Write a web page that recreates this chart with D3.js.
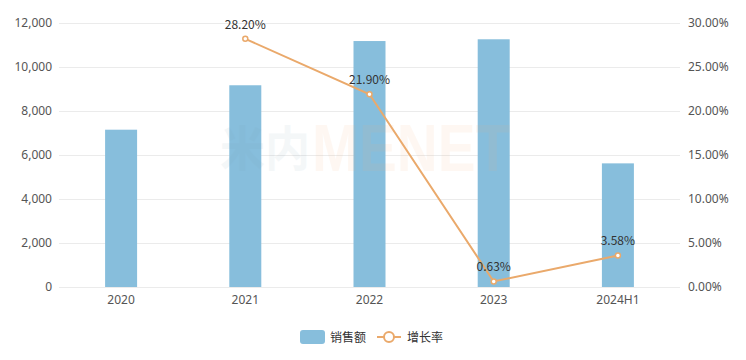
<!DOCTYPE html>
<html>
<head>
<meta charset="utf-8">
<script src="https://cdn.jsdelivr.net/npm/d3@7"></script>
<style>
body{margin:0;background:#fff;font-family:"Microsoft YaHei","Noto Sans CJK SC","Noto Sans",sans-serif;}
</style>
</head>
<body>
<svg id="graph"></svg>
<script>
var categories=["2020","2021","2022","2023","2024H1"]
var sales=[7150,9170,11180,11260,5620]
var growth=[null,28.20,21.90,0.63,3.58]
var leftTicks=[0,2000,4000,6000,8000,10000,12000]
var rightTicks=[0,5,10,15,20,25,30]

var screen={width:746,height:360}
var margins={left:59,right:66,top:23,bottom:73}
var graph={width:screen.width-margins.left-margins.right,height:screen.height-margins.top-margins.bottom}

var barColor="#87bedc", lineColor="#eaa96b"

var svg=d3.select("#graph").attr("width",screen.width).attr("height",screen.height)
var target=svg.append("g").attr("transform","translate("+margins.left+","+margins.top+")")

var xScale=d3.scaleBand().domain(categories).range([0,graph.width])
var yScale=d3.scaleLinear().domain([0,12000]).range([graph.height,0])
var yScaleP=d3.scaleLinear().domain([0,30]).range([graph.height,0])

// grid
target.append("g").selectAll("line").data(leftTicks).enter().append("line")
    .attr("x1",0).attr("x2",graph.width)
    .attr("y1",function(d){return yScale(d)+0.5})
    .attr("y2",function(d){return yScale(d)+0.5})
    .attr("stroke","#ebebeb")

// axes
var yAxisL=d3.axisLeft(yScale).tickValues(leftTicks).tickSize(0).tickPadding(7).tickFormat(d3.format(","))
var gl=target.append("g").call(yAxisL)
var yAxisR=d3.axisRight(yScaleP).tickValues(rightTicks).tickSize(0).tickPadding(8).tickFormat(function(d){return d.toFixed(2)+"%"})
var gr=target.append("g").attr("transform","translate("+graph.width+",0)").call(yAxisR)
var xAxis=d3.axisBottom(xScale).tickSize(0).tickPadding(8)
var gx=target.append("g").attr("transform","translate(0,"+graph.height+")").call(xAxis)
;[gl,gr,gx].forEach(function(g){
    g.select(".domain").remove()
    g.selectAll("text").attr("fill","#555").attr("font-size",12)
        .style("font-family","'Microsoft YaHei','Noto Sans',sans-serif")
})

// bars
var barW=32
target.append("g").selectAll("rect").data(sales).enter().append("rect")
    .attr("x",function(d,i){return xScale(categories[i])+xScale.bandwidth()/2-barW/2})
    .attr("y",function(d){return yScale(d)})
    .attr("width",barW)
    .attr("height",function(d){return graph.height-yScale(d)})
    .attr("fill",barColor)

// watermark
var wm=svg.append("g").attr("font-weight","bold")
wm.append("text").text("米内").attr("x",220).attr("y",166)
    .attr("font-size",48).attr("textLength",90).attr("lengthAdjust","spacingAndGlyphs")
    .attr("fill","#7aa0b4").attr("opacity",0.08)
wm.append("text").text("MENET").attr("x",312).attr("y",171)
    .attr("font-size",66).attr("textLength",198).attr("lengthAdjust","spacingAndGlyphs")
    .style("font-family","'Liberation Sans',Arial,sans-serif")
    .attr("fill","#f5b07a").attr("opacity",0.09)

// line
var pts=growth.map(function(v,i){return {c:categories[i],v:v}}).filter(function(d){return d.v!==null})
var line=d3.line()
    .x(function(d){return xScale(d.c)+xScale.bandwidth()/2})
    .y(function(d){return yScaleP(d.v)})
target.append("path").datum(pts).attr("d",line)
    .attr("fill","none").attr("stroke",lineColor).attr("stroke-width",2)
target.append("g").selectAll("circle").data(pts).enter().append("circle")
    .attr("cx",function(d){return xScale(d.c)+xScale.bandwidth()/2})
    .attr("cy",function(d){return yScaleP(d.v)})
    .attr("r",2.5).attr("fill","#fff").attr("stroke",lineColor).attr("stroke-width",1.5)
target.append("g").selectAll("text").data(pts).enter().append("text")
    .text(function(d){return d.v.toFixed(2)+"%"})
    .attr("x",function(d){return xScale(d.c)+xScale.bandwidth()/2})
    .attr("y",function(d){return yScaleP(d.v)-10})
    .attr("text-anchor","middle").attr("font-size",12).attr("fill","#333")

// legend
var legend=svg.append("g").attr("transform","translate(300,330)")
legend.append("rect").attr("x",0).attr("y",0).attr("width",25).attr("height",14).attr("rx",3).attr("fill",barColor)
legend.append("text").text("销售额").attr("x",30).attr("y",11.5).attr("font-size",12).attr("fill","#333")
legend.append("line").attr("x1",77).attr("x2",101).attr("y1",7).attr("y2",7).attr("stroke",lineColor).attr("stroke-width",2)
legend.append("circle").attr("cx",89).attr("cy",7).attr("r",5).attr("fill","#fff").attr("stroke",lineColor).attr("stroke-width",2)
legend.append("text").text("增长率").attr("x",107).attr("y",11.5).attr("font-size",12).attr("fill","#333")
</script>
</body>
</html>
